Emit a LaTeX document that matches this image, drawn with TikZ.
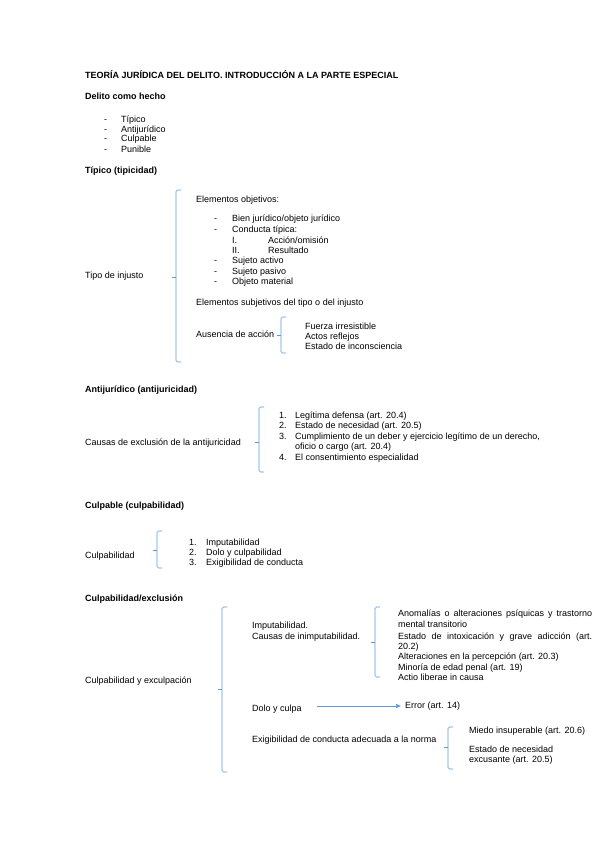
\documentclass[tikz,border=0pt]{standalone}
\usepackage{fontspec}
\setmainfont{Liberation Sans}
\usetikzlibrary{arrows.meta}
\definecolor{brk}{RGB}{91,155,213}
\newcommand{\fs}{\fontsize{9pt}{10.35pt}\selectfont}
\newcommand{\mybrk}[4]{%
  \draw[brkline,rounded corners=1.5pt] (#1+5,#2) -- (#1,#2) -- (#1,#4) -- (#1+5,#4);
  \draw[brkline] (#1,#3) -- (#1-4.5,#3);}
\begin{document}
\begin{tikzpicture}[x=1pt,y=-1pt,
  txt/.style={anchor=base west,inner sep=0pt,font=\fs},
  hd/.style={txt,font=\fs\bfseries},
  brkline/.style={draw=brk,line width=0.6pt},
  arr/.style={draw=brk,line width=0.6pt,-{Triangle[length=5pt,width=4pt]}}]
\useasboundingbox[fill=white] (0,0) rectangle (599,848);
% header
\node[hd] (title) at (85,79) {TEORÍA JURÍDICA DEL DELITO. INTRODUCCIÓN A LA PARTE ESPECIAL};
\node[hd] (hecho) at (85,100) {Delito como hecho};
\node[txt] (d1) at (104,122) {-}; \node[txt] (t1) at (121,122) {Típico};
\node[txt] (d2) at (104,132) {-}; \node[txt] (t2) at (121,132) {Antijurídico};
\node[txt] (d3) at (104,142) {-}; \node[txt] (t3) at (121,142) {Culpable};
\node[txt] (d4) at (104,152) {-}; \node[txt] (t4) at (121,152) {Punible};
% tipico
\node[hd] (htip) at (85,173) {Típico (tipicidad)};
\node[txt] (tipo) at (85,278) {Tipo de injusto};
\mybrk{176}{190}{277}{362}
\node[txt] (eobj) at (196,202) {Elementos objetivos:};
\node[txt] (e1d) at (214,221) {-}; \node[txt] (e1) at (232,221) {Bien jurídico/objeto jurídico};
\node[txt] (e2d) at (214,232) {-}; \node[txt] (e2) at (232,232) {Conducta típica:};
\node[txt] (r1) at (232,243) {I.}; \node[txt] (r1t) at (268,243) {Acción/omisión};
\node[txt] (r2) at (232,253) {II.}; \node[txt] (r2t) at (268,253) {Resultado};
\node[txt] (e3d) at (214,263) {-}; \node[txt] (e3) at (232,263) {Sujeto activo};
\node[txt] (e4d) at (214,274) {-}; \node[txt] (e4) at (232,274) {Sujeto pasivo};
\node[txt] (e5d) at (214,284) {-}; \node[txt] (e5) at (232,284) {Objeto material};
\node[txt] (esub) at (196,305) {Elementos subjetivos del tipo o del injusto};
\node[txt] (aus) at (196,337) {Ausencia de acción};
\mybrk{281}{317}{335}{353}
\node[txt] (f1) at (305,329) {Fuerza irresistible};
\node[txt] (f2) at (305,339) {Actos reflejos};
\node[txt] (f3) at (305,349) {Estado de inconsciencia};
% antijuridico
\node[hd] (hanti) at (85,392) {Antijurídico (antijuricidad)};
\node[txt] (causas) at (85,445) {Causas de exclusión de la antijuricidad};
\mybrk{259}{407}{442}{472}
\node[txt] (a1n) at (279,418) {1.}; \node[txt] (a1) at (295,418) {Legítima defensa (art. 20.4)};
\node[txt] (a2n) at (279,428) {2.}; \node[txt] (a2) at (295,428) {Estado de necesidad (art. 20.5)};
\node[txt] (a3n) at (279,439) {3.}; \node[txt] (a3) at (295,439) {Cumplimiento de un deber y ejercicio legítimo de un derecho,};
\node[txt] (a3b) at (295,449) {oficio o cargo (art. 20.4)};
\node[txt] (a4n) at (279,460) {4.}; \node[txt] (a4) at (295,460) {El consentimiento especialidad};
% culpable
\node[hd] (hculp) at (85,508) {Culpable (culpabilidad)};
\node[txt] (culpab) at (85,558) {Culpabilidad};
\mybrk{157}{531}{550}{568}
\node[txt] (c1n) at (189,545) {1.}; \node[txt] (c1) at (206,545) {Imputabilidad};
\node[txt] (c2n) at (189,555) {2.}; \node[txt] (c2) at (206,555) {Dolo y culpabilidad};
\node[txt] (c3n) at (189,565) {3.}; \node[txt] (c3) at (206,565) {Exigibilidad de conducta};
% culpabilidad / exclusion
\node[hd] (hexc) at (85,601) {Culpabilidad/exclusión};
\node[txt] (cyexc) at (85,683) {Culpabilidad y exculpación};
\mybrk{222}{607}{689}{772}
\node[txt] (imp1) at (252,628) {Imputabilidad.};
\node[txt] (imp2) at (252,639) {Causas de inimputabilidad.};
\mybrk{375}{607}{642}{677}
\node[txt] (i1) at (398,616) {\makebox[194pt][s]{Anomalías o alteraciones psíquicas y trastorno}};
\node[txt] (i1b) at (398,627) {mental transitorio};
\node[txt] (i2) at (398,639) {\makebox[194pt][s]{Estado de intoxicación y grave adicción (art.}};
\node[txt] (i2b) at (398,649) {20.2)};
\node[txt] (i3) at (398,659) {Alteraciones en la percepción (art. 20.3)};
\node[txt] (i4) at (398,670) {Minoría de edad penal (art. 19)};
\node[txt] (i5) at (398,680) {Actio liberae in causa};
\node[txt] (dolo) at (252,711) {Dolo y culpa};
\node[txt] (err) at (405,708) {Error (art. 14)};
\coordinate (arrS) at (317,706);
\draw[arr] (arrS) -- ([xshift=-4pt]err.west |- arrS);
\node[txt] (exig) at (252,742) {Exigibilidad de conducta adecuada a la norma};
\mybrk{448}{727}{747}{769}
\node[txt] (m1) at (469,733) {Miedo insuperable (art. 20.6)};
\node[txt] (m2) at (469,752) {Estado de necesidad};
\node[txt] (m2b) at (469,762) {excusante (art. 20.5)};
\end{tikzpicture}
\end{document}
